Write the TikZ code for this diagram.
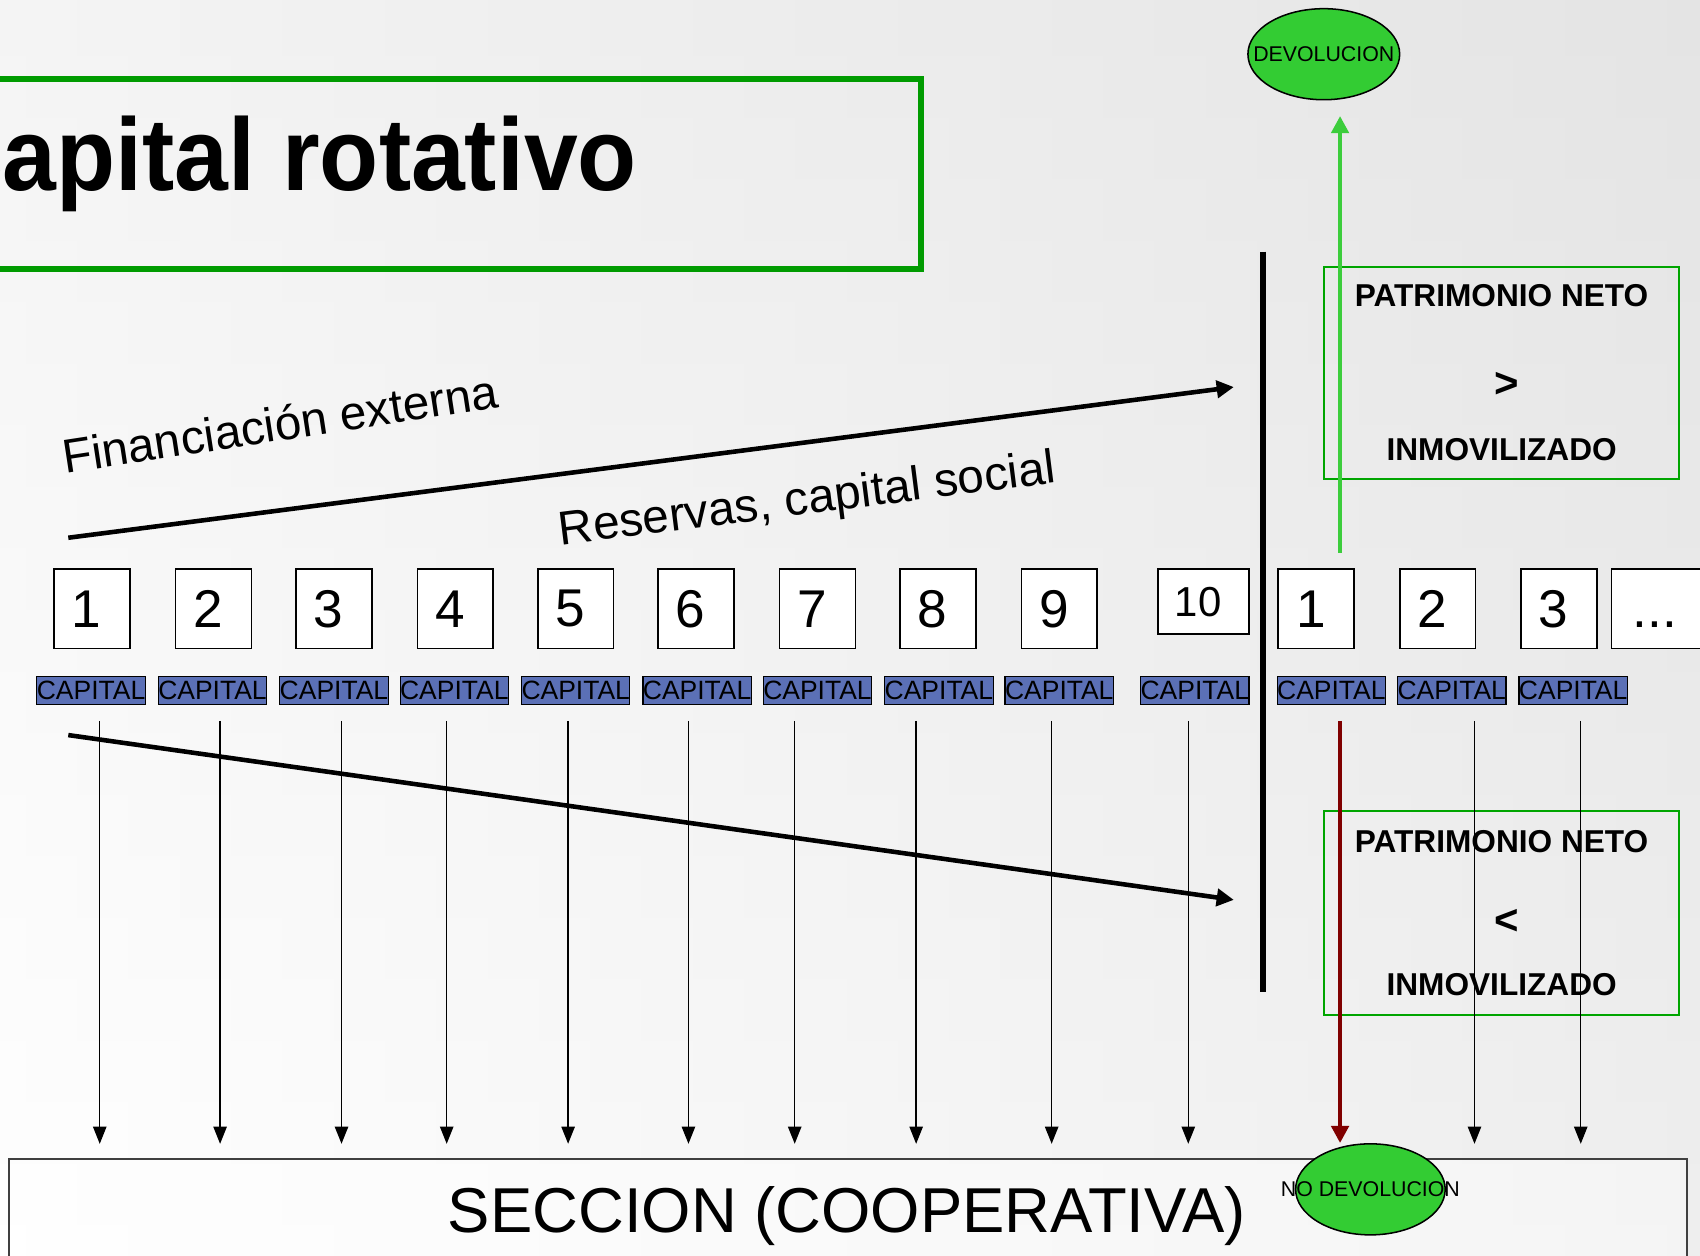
\documentclass[tikz,border=0pt]{standalone}
\usepackage{fontspec}
\setmainfont{Liberation Sans}
\usetikzlibrary{shapes.geometric,arrows.meta}
\definecolor{titlegreen}{RGB}{0,155,0}
\definecolor{boxgreen}{RGB}{0,165,0}
\definecolor{lgreen}{RGB}{60,205,60}
\definecolor{ellgreen}{RGB}{51,204,51}
\definecolor{capblue}{RGB}{91,112,182}
\definecolor{darkredc}{RGB}{128,0,0}
\newcommand{\setfs}[1]{\fontsize{#1pt}{#1pt}\selectfont}
\begin{document}
\begin{tikzpicture}[x=0.02cm,y=-0.02cm,
  numbox/.style={draw=black, line width=0.85pt, fill=white, minimum width=1.4cm, minimum height=1.46cm, inner sep=0pt, font=\setfs{27.9}},
  capl/.style={draw=black, line width=0.6pt, fill=capblue, minimum width=1.96cm, minimum height=0.52cm, inner sep=0pt, font=\setfs{13.9}},
  downarr/.style={line width=0.75pt, -{Triangle[width=7pt,length=9pt]}},
  pnbox/.style={draw=boxgreen, line width=1.1pt, minimum width=6.56cm, inner sep=0pt},
  pntext/.style={font=\bfseries\setfs{16.6}, inner sep=0pt},
  ellnode/.style={ellipse, draw=black, line width=0.8pt, fill=ellgreen, inner sep=0pt},
  elltext/.style={font=\setfs{11.2}, inner sep=0pt},
  diagarr/.style={line width=2.4pt, -{Triangle[width=9pt,length=9pt]}},
  rottext/.style={font=\setfs{25}, inner sep=0pt, anchor=base west}
]
\useasboundingbox (0,0) rectangle (1568,1158);
\clip (0,0) rectangle (1568,1158);
\shade[left color=white, right color=black!13] (0,0) rectangle (1568,1158);
\shade[top color=black!8, bottom color=white, opacity=0.5] (0,0) rectangle (1568,1158);

% title
\node[draw=titlegreen, line width=2.85pt, minimum width=17.3cm, minimum height=3.5cm, inner sep=0pt] (titlebox) at (417,160.5) {};
\node[anchor=base west, inner sep=0pt, font=\bfseries\setfs{54}] (title) at (-62,176) {\scalebox{0.94}[1]{Capital rotativo}};

% devolucion ellipse
\node[ellnode, minimum width=2.8cm, minimum height=1.68cm] (dev) at (1221,50) {};
\node[elltext] (devt) at (1221,50) {DEVOLUCION};

% patrimonio boxes
\node[pnbox, minimum height=3.92cm] (pn1) at (1385,344) {};
\node[pntext] (pn1a) at (1385,273) {PATRIMONIO NETO};
\node[pntext, font=\bfseries\setfs{22}] (pn1b) at (1390,355) {>};
\node[pntext] (pn1c) at (1385,415) {INMOVILIZADO};
\node[pnbox, minimum height=3.76cm] (pn2) at (1385,842) {};
\node[pntext] (pn2a) at (1385,776) {PATRIMONIO NETO};
\node[pntext, font=\bfseries\setfs{22}] (pn2b) at (1390,850) {<};
\node[pntext] (pn2c) at (1385,908) {INMOVILIZADO};

% rotated labels
\node[rottext, rotate=8.7] (fin) at (60,437) {Financiación externa};
\node[rottext, rotate=7.2] (res) at (517,503) {Reservas, capital social};

% diagonal arrows
\coordinate (d1s) at (63,496);
\coordinate (d1e) at (1138,357);
\coordinate (d2s) at (63,678);
\coordinate (d2e) at (1138,830);
\draw[diagarr] (d1s) -- (d1e);
\draw[diagarr] (d2s) -- (d2e);

% number boxes
\foreach \n/\x in {1/85,2/197,3/308,4/420,5/531,6/642,7/754,8/865,9/977}
  \node[numbox] (b\n) at (\x,561.5) {\n\kern0.2cm};
\node[numbox, minimum width=1.68cm, minimum height=1.2cm, font=\setfs{22}] (b10) at (1110,555) {10\kern0.2cm};
\node[numbox] (r1) at (1214,561.5) {1\kern0.2cm};
\node[numbox] (r2) at (1326,561.5) {2\kern0.2cm};
\node[numbox] (r3) at (1438,561.5) {3\kern0.2cm};
\node[numbox, minimum width=1.9cm] (rdots) at (1534,561.5) {\raisebox{-3pt}{\vphantom{1}...}\kern0.3cm};

% capital labels
\foreach \i/\x in {1/84,2/196,3/308,4/419,5/531,6/643,7/754,8/866,9/977,10/1102,11/1228,12/1339,13/1451}
  \node[capl] (c\i) at (\x,637) {CAPITAL};

% section box
\node[draw=black!75, line width=1.2pt, fill=white, fill opacity=0.4, draw opacity=1, minimum width=30.96cm, minimum height=3cm, inner sep=0pt] (sec) at (782,1144) {};
\node[anchor=base, inner sep=0pt, font=\setfs{33.3}] (sect) at (781,1137) {SECCION (COOPERATIVA)};

% down arrows
\foreach \i/\x in {1/92,2/203,3/315,4/412,5/524,6/635,7/733,8/845,9/970,10/1096,12/1360,13/1458}{
  \coordinate (as\i) at (\x,665);
  \coordinate (ae\i) at (\x,1055);
  \draw[downarr] (as\i) -- (ae\i);
}

% no devolucion
\node[ellnode, minimum width=2.76cm, minimum height=1.68cm] (nodev) at (1264,1097) {};
\node[elltext] (nodevt) at (1264,1097) {NO DEVOLUCION};

% red arrow
\coordinate (ras) at (1236,665);
\draw[line width=2.3pt, darkredc, -{Triangle[width=9pt,length=9pt]}] (ras) -- (nodev.north -| ras);

% green arrow
\coordinate (gas) at (1236,510);
\coordinate (gae) at (1236,107);
\draw[line width=2.3pt, lgreen, -{Triangle[width=9pt,length=9pt]}] (gas) -- (gae);

% thick divider
\coordinate (vt) at (1165,232);
\coordinate (vb) at (1165,915);
\draw[line width=3.4pt] (vt) -- (vb);
\end{tikzpicture}
\end{document}
